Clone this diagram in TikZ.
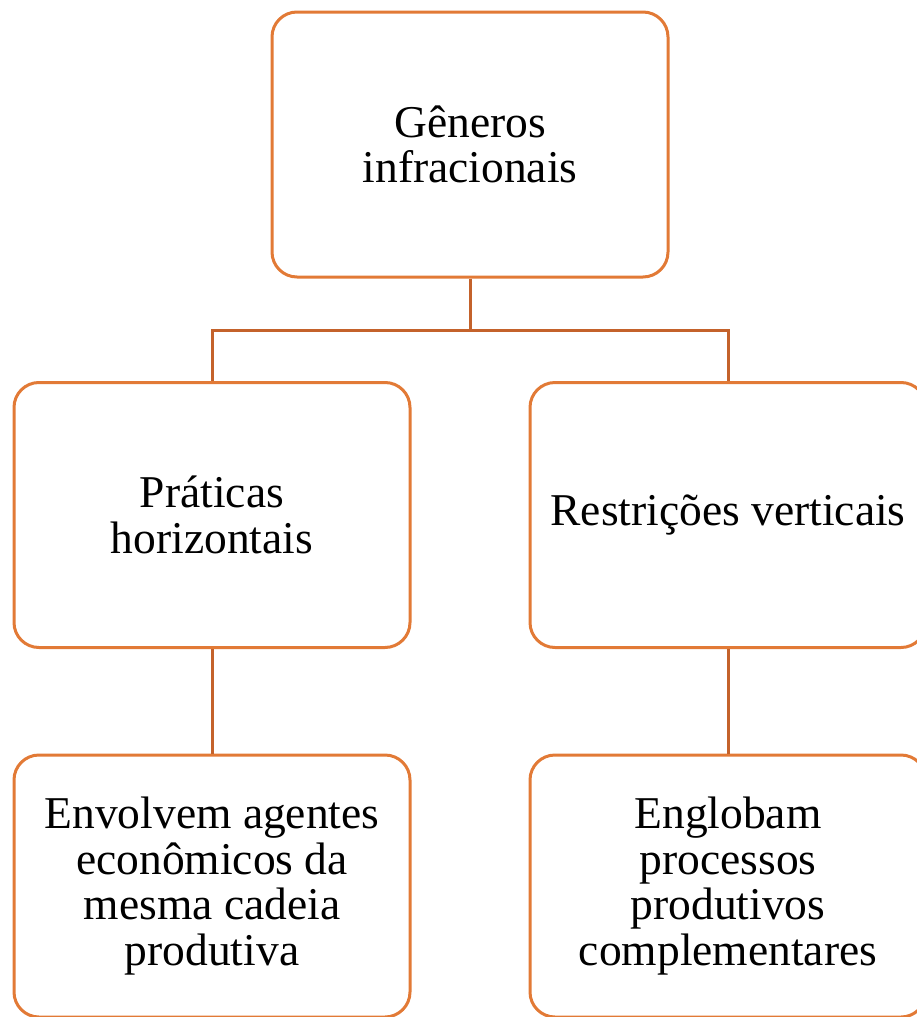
\documentclass[tikz,border=0pt]{standalone}
\usepackage{fontspec}
\setmainfont{Liberation Serif}
\definecolor{boxc}{HTML}{E27A36}
\definecolor{linec}{HTML}{C4622B}
\begin{document}
\begin{tikzpicture}[x=1pt,y=-1pt,
  box/.style={draw=boxc, line width=3pt, rounded corners=25pt, minimum width=396pt,
    minimum height=265pt, align=center, inner sep=0pt,
    font=\fontsize{45.5}{45.5}\selectfont},
  lowbox/.style={box, minimum height=262pt},
  conn/.style={draw=linec, line width=3pt}]
\useasboundingbox (0,0) rectangle (917,1017);
\clip (0,0) rectangle (917,1017);
\node[box] (top) at (470,144.5) {Gêneros\\infracionais};
\node[box] (lm) at (212,515) {Práticas\\horizontais};
\node[box] (rm) at (728,515) {Restrições verticais};
\node[lowbox] (lb) at (212,886) {Envolvem agentes\\econômicos da\\mesma cadeia\\produtiva};
\node[lowbox] (rb) at (728,886) {Englobam\\processos\\produtivos\\complementares};
\coordinate (j) at (470,330);
\draw[conn] (top.south) -- (j);
\draw[conn] (j) -| (lm.north);
\draw[conn] (j) -| (rm.north);
\draw[conn] (lm.south) -- (lb.north);
\draw[conn] (rm.south) -- (rb.north);
\end{tikzpicture}
\end{document}
